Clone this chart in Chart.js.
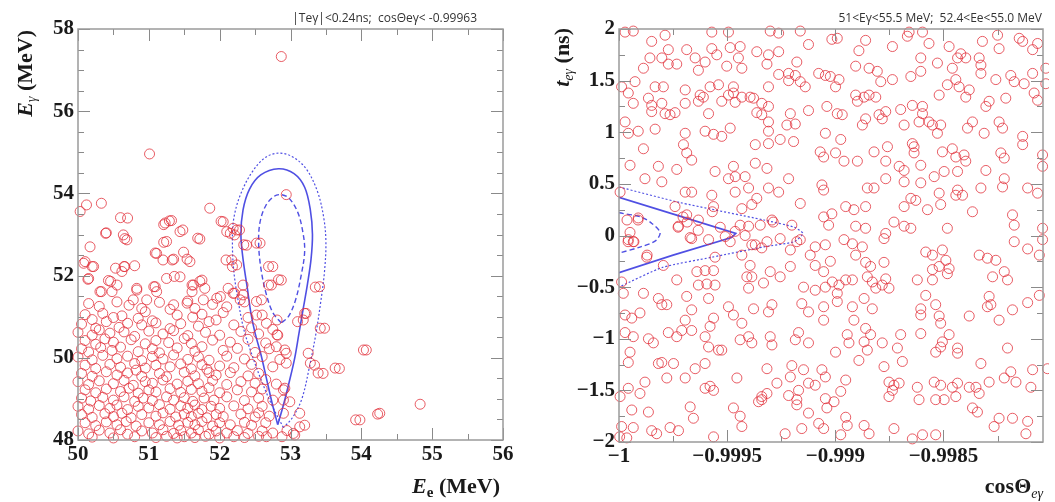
<!DOCTYPE html>
<html>
<head>
<meta charset="utf-8">
<script src="https://cdn.jsdelivr.net/npm/chart.js@4.4.1/dist/chart.umd.min.js"></script>
<style>
  body { margin: 0; background: #fff; width: 1055px; height: 502px; overflow: hidden; position: relative; }
  .pane { position: absolute; top: 0; height: 502px; }
</style>
</head>
<body>
<div class="pane" style="left:0;width:528px"><canvas id="energyChart"></canvas></div>
<div class="pane" style="left:530px;width:525px"><canvas id="timingChart"></canvas></div>
<script>
// ---- left panel: E_e (MeV) vs E_gamma (MeV), events
var energyEvents = [
  [52.87,57.33],[51.01,54.96],[52.94,53.97],[50.03,53.56],[50.12,53.72],[50.33,53.76],[51.86,53.64],
  [50.39,53.03],[50.6,53.41],[50.7,53.4],[50.64,52.99],[50.66,52.9],[50.17,52.7],[50.08,52.3],[50.2,52.22],
  [50.14,51.91],[50.8,52.24],[50.65,52.22],[50.53,52.18],[50.46,51.86],[50.31,51.61],[51.21,53.24],[51.29,53.33],
  [51.44,53.07],[51.48,53.11],[51.21,52.81],[51.09,52.55],[51.33,52.38],[51.49,52.57],[51.54,52.4],[51.69,52.91],
  [52.02,53.32],[52.1,53.07],[52.15,53.03],[52.24,53.11],[52.34,52.75],[52.52,52.79],[52.09,52.38],[52.18,52.22],
  [52.69,52.22],[52.83,51.9],[52.69,51.77],[53.35,51.72],[51.36,51.98],[51.61,51.77],[51.72,51.86],[51.07,51.73],
  [50.97,51.41],[50.83,51.65],[50.78,51.41],[51.35,51.29],[51.54,51.33],[51.77,51.41],[51.96,51.45],[52.19,51.57],
  [52.29,51.41],[52.52,51.37],[53.2,51.08],[53.1,50.88],[53.42,50.72],[52.81,50.92],[52.81,50.56],[52.52,51.04],
  [52.66,50.84],[53.63,49.75],[54.03,50.19],[53.39,49.63],[53.28,49.87],[54.83,48.87],[54.23,48.63],[53.92,48.49],
  [52.92,50.19],[52.9,49.22],[52.9,48.97],[52.9,48.65],[53.13,48.65],[53.13,48.32],[53.04,48.16],[52.88,48.08],
  [52.66,48.08],[51.23,53.28],[51.32,53.34],[50.4,53.04],[50.69,52.87],[52.05,53.31],[51.72,52.89],[51.25,52.83],
  [51.11,52.54],[51.2,52.38],[51.35,52.4],[51.58,52.34],[50.1,52.34],[50.22,52.22],[50.66,52.22],[50.62,52.1],
  [50.15,51.93],[50.43,51.88],[50.55,51.77],[50.83,51.69],[51.09,51.73],[51.11,51.61],[51.25,51.93],[51.44,51.97],
  [51.63,51.77],[51.75,51.89],[51.79,51.69],[52.01,51.49],[52.12,51.69],[50.33,51.61],[50.48,51.61],[51.61,51.61],
  [52.19,53.15],[52.28,53.11],[52.21,52.99],[52.38,52.74],[52.57,52.79],[52.17,52.38],[52.24,52.26],[52.75,52.22],
  [52.73,51.77],[52.87,51.89],[53.41,51.73],[52.33,51.77],[52.21,51.57],[52.33,51.53],[52.59,51.41],
  [53.48,50.72],[54.07,50.19],[53.69,49.74],[53.46,49.62],[53.34,49.82],[53.25,50.11],[54.26,48.65],[53.98,48.49],
  [53.22,51.08],[53.18,50.92],[52.82,50.55],[52.8,50.27],[52.94,50.11],[52.94,49.87],[52.92,49.26],[52.99,48.93],
  [53.2,48.36],[53.06,48.12],
  [50.15,51.32],[50.3,51.25],[50.55,51.36],[50.72,51.28],[50.9,51.2],[51.15,51.35],[51.3,51.18],[51.55,51.38],
  [51.65,51.2],[51.9,51.3],[52.1,51.24],[52.35,51.36],
  [50.1,51.05],[50.2,50.93],[50.35,51.08],[50.5,50.98],[50.62,51.02],[50.85,50.96],[50.95,51.12],[51.05,50.9],
  [51.4,51.04],[51.62,50.99],[51.75,51.06],[51.95,50.92],[52.05,51.1],[52.4,50.98],[52.6,51.04],
  [50.05,50.82],[50.25,50.72],[50.4,50.88],[50.58,50.74],[50.7,50.84],[50.9,50.8],[51.1,50.85],[51.3,50.71],
  [51.45,50.83],[51.7,50.77],[51.85,50.88],[52.2,50.8],[52.45,50.73],
  [50.0,50.62],[50.2,50.55],[50.3,50.68],[50.45,50.6],[50.65,50.63],[50.8,50.52],[51.0,50.65],[51.2,50.58],
  [51.35,50.66],[51.55,50.54],[51.8,50.62],[52.0,50.55],[52.3,50.64],[52.55,50.58],[52.75,50.69],
  [50.1,50.42],[50.25,50.33],[50.38,50.46],[50.5,50.38],[50.75,50.44],[50.95,50.34],[51.1,50.42],[51.28,50.37],
  [51.5,50.47],[51.6,50.35],[51.9,50.43],[52.15,50.38],[52.4,50.45],[52.65,50.36],
  [50.05,50.22],[50.15,50.14],[50.32,50.25],[50.48,50.18],[50.6,50.26],[50.85,50.15],[51.05,50.22],[51.15,50.12],
  [51.4,50.24],[51.65,50.16],[51.75,50.27],[52.05,50.18],[52.25,50.23],[52.5,50.13],[52.7,50.22],
  [50.0,50.02],[50.2,49.95],[50.35,50.06],[50.55,49.98],[50.7,50.04],[50.9,49.93],[51.05,50.03],[51.2,49.97],
  [51.35,50.07],[51.55,49.96],[51.7,50.02],[51.85,49.94],[52.1,50.04],[52.35,49.97],[52.6,50.03],[52.85,49.96],
  [50.1,49.82],[50.25,49.74],[50.45,49.84],[50.6,49.77],[50.8,49.86],[50.95,49.75],[51.1,49.82],[51.3,49.78],
  [51.45,49.85],[51.6,49.73],[51.75,49.83],[51.82,49.72],[52.0,49.8],[52.2,49.76],[52.45,49.84],[52.75,49.78],
  [50.05,49.62],[50.2,49.55],[50.4,49.66],[50.55,49.58],[50.7,49.63],[50.82,49.7],[50.9,49.55],[51.15,49.62],
  [51.25,49.54],[51.5,49.65],[51.65,49.56],[51.85,49.64],[51.95,49.58],[52.15,49.64],[52.4,49.56],[52.55,49.62],
  [50.0,49.42],[50.15,49.35],[50.3,49.44],[50.5,49.37],[50.65,49.45],[50.78,49.33],[50.95,49.42],[51.05,49.38],
  [51.2,49.46],[51.4,49.36],[51.55,49.43],[51.7,49.37],[51.9,49.45],[52.1,49.35],[52.3,49.42],[52.5,49.38],
  [52.65,49.47],[52.8,49.36],
  [50.1,49.22],[50.25,49.15],[50.4,49.24],[50.6,49.18],[50.72,49.26],[50.85,49.14],[51.0,49.22],[51.1,49.17],
  [51.3,49.25],[51.45,49.16],[51.6,49.23],[51.75,49.18],[51.85,49.27],[52.0,49.15],[52.25,49.22],[52.45,49.17],
  [52.6,49.24],
  [50.05,49.02],[50.18,48.95],[50.35,49.04],[50.5,48.97],[50.65,49.05],[50.8,48.94],[50.92,49.02],[51.05,48.96],
  [51.25,49.05],[51.35,48.97],[51.5,49.03],[51.62,48.94],[51.78,49.02],[51.92,48.97],[52.1,49.05],[52.35,48.96],
  [52.55,49.02],[52.75,48.97],
  [50.0,48.82],[50.15,48.75],[50.3,48.84],[50.45,48.77],[50.55,48.85],[50.7,48.74],[50.85,48.82],[51.0,48.78],
  [51.15,48.86],[51.3,48.75],[51.45,48.83],[51.55,48.77],[51.65,48.85],[51.75,48.74],[51.88,48.82],[52.0,48.77],
  [52.2,48.83],[52.4,48.76],[52.6,48.82],
  [50.05,48.62],[50.2,48.55],[50.38,48.64],[50.5,48.57],[50.62,48.65],[50.75,48.54],[50.9,48.62],[51.1,48.58],
  [51.2,48.66],[51.38,48.56],[51.5,48.63],[51.6,48.57],[51.7,48.65],[51.82,48.54],[51.95,48.62],[52.05,48.57],
  [52.3,48.63],[52.5,48.56],[52.55,48.66],[52.7,48.58],
  [50.1,48.42],[50.25,48.35],[50.4,48.44],[50.55,48.37],[50.68,48.45],[50.82,48.34],[51.0,48.42],[51.15,48.37],
  [51.3,48.45],[51.42,48.36],[51.55,48.43],[51.65,48.37],[51.75,48.45],[51.9,48.34],[52.0,48.42],[52.15,48.37],
  [52.35,48.43],[52.45,48.36],[52.65,48.42],
  [50.0,48.22],[50.15,48.15],[50.3,48.24],[50.45,48.17],[50.6,48.25],[50.7,48.14],[50.9,48.22],[51.05,48.17],
  [51.2,48.25],[51.35,48.16],[51.45,48.23],[51.6,48.17],[51.7,48.25],[51.85,48.14],[51.95,48.22],[52.1,48.17],
  [52.25,48.23],[52.4,48.16],[52.6,48.22],[52.75,48.17],[52.95,48.23],
  [50.2,48.07],[50.5,48.05],[50.8,48.08],[51.1,48.06],[51.25,48.09],[51.4,48.05],[51.5,48.08],[51.65,48.06],
  [51.8,48.09],[52.0,48.05],[52.2,48.08],[52.35,48.06],[52.55,48.09]
];

// signal contours (E_e, E_gamma)
var energyContourSolid = [
  [52.82,48.37],[52.74,48.9],[52.66,49.5],[52.58,50.1],[52.5,50.6],[52.44,51.1],[52.39,51.7],[52.33,52.4],
  [52.3,53.0],[52.33,53.6],[52.42,54.1],[52.58,54.45],[52.83,54.6],[53.05,54.48],[53.2,54.15],[53.28,53.6],
  [53.31,53.0],[53.29,52.4],[53.24,51.8],[53.18,51.2],[53.12,50.6],[53.06,50.0],[52.98,49.4],[52.9,48.85],[52.82,48.37]
];
var energyContourOuter = [
  [52.9,48.3],[52.75,48.8],[52.6,49.4],[52.45,50.1],[52.34,50.7],[52.26,51.4],[52.2,52.1],[52.18,52.8],
  [52.2,53.4],[52.3,54.0],[52.47,54.55],[52.65,54.88],[52.83,54.98],[53.02,54.9],[53.22,54.6],[53.38,54.05],
  [53.47,53.4],[53.5,52.8],[53.48,52.1],[53.43,51.4],[53.36,50.6],[53.27,49.8],[53.16,49.0],[53.03,48.55],[52.9,48.3]
];
var energyContourInner = [
  [52.87,50.85],[52.75,51.1],[52.65,51.6],[52.58,52.2],[52.55,52.8],[52.57,53.3],[52.65,53.7],[52.77,53.93],
  [52.87,53.97],[52.98,53.88],[53.1,53.55],[53.17,53.1],[53.2,52.6],[53.15,52.0],[53.07,51.4],[52.97,51.0],[52.87,50.85]
];

var energyXTicks = [50, 51, 52, 53, 54, 55, 56];
var energyYTicks = [48, 50, 52, 54, 56, 58];

// ---- right panel: cos(theta_e gamma) vs t_e gamma (ns)
var timingEvents = [
  [-0.999972,1.97],[-0.999934,1.98],[-0.999787,1.94],[-0.999849,1.88],[-0.999571,1.97],[-0.999494,1.97],
  [-0.999301,1.98],[-0.999262,1.96],[-0.999162,1.98],[-0.999016,1.90],
  [-0.999772,1.80],[-0.999687,1.80],[-0.999571,1.81],[-0.999486,1.82],[-0.99944,1.83],[-0.999363,1.78],
  [-0.999309,1.75],[-0.999262,1.78],[-0.999124,1.85],
  [-0.999857,1.72],[-0.999802,1.72],[-0.999648,1.72],[-0.999602,1.68],[-0.999548,1.75],[-0.999448,1.72],
  [-0.999772,1.66],[-0.999733,1.66],[-0.999633,1.60],[-0.999502,1.64],[-0.999432,1.62],[-0.999316,1.66],
  [-0.999178,1.68],[-0.999216,1.57],[-0.999185,1.55],[-0.999162,1.49],[-0.999887,1.62],[-0.999262,1.56],
  [-0.999077,1.57],[-0.999046,1.55],[-0.999023,1.54],
  [-0.999988,1.44],[-0.999926,1.49],[-0.999833,1.44],[-0.999795,1.44],[-0.999694,1.41],[-0.999579,1.44],
  [-0.99954,1.46],[-0.999471,1.44],[-0.999309,1.44],[-0.999216,1.50],[-0.999139,1.44],
  [-0.999957,1.38],[-0.999864,1.33],[-0.999625,1.36],[-0.99961,1.34],[-0.999494,1.36],[-0.999471,1.38],
  [-0.999432,1.34],[-0.999394,1.34],[-0.999378,1.33],
  [-0.999849,1.26],[-0.999802,1.28],[-0.999694,1.28],[-0.999633,1.30],[-0.999525,1.30],[-0.999463,1.29],
  [-0.99934,1.28],[-0.999309,1.25],[-0.999934,1.28],
  [-0.999849,1.20],[-0.999787,1.18],[-0.999764,1.17],[-0.999741,1.19],[-0.999586,1.18],[-0.999363,1.19],
  [-0.99934,1.17],[-0.999208,1.18],[-0.999124,1.21],[-0.999039,1.25],
  [-0.999972,1.10],[-0.999911,1.01],[-0.999957,0.99],[-0.999833,1.03],[-0.999602,1.01],[-0.999563,0.98],
  [-0.999525,0.96],[-0.999486,1.04],[-0.999309,1.10],[-0.999309,1.01],[-0.999224,1.07],[-0.999185,1.08],
  [-0.999046,0.99],
  [-0.999887,0.84],[-0.999694,0.99],[-0.99937,0.88],[-0.999309,0.89],[-0.999255,0.93],[-0.999193,0.91],
  [-0.999702,0.88],[-0.999687,0.80],[-0.999664,0.73],[-0.99907,0.81],[-0.999054,0.76],
  [-0.999949,0.68],[-0.999818,0.67],[-0.999733,0.64],[-0.999556,0.62],[-0.999471,0.67],[-0.999463,0.57],
  [-0.99937,0.70],[-0.999316,0.65],[-0.999216,0.55],[-0.999802,0.52],[-0.99988,0.55],[-0.999494,0.55],
  [-0.999417,0.57],[-0.999401,0.46],[-0.999309,0.46],[-0.999062,0.49],[-0.999054,0.44],
  [-0.999995,0.42],[-0.999694,0.42],[-0.999664,0.42],[-0.999571,0.39],[-0.999463,0.42],[-0.999363,0.36],
  [-0.999386,0.30],[-0.999262,0.42],[-0.999162,0.31],[-0.999016,0.21],[-0.999432,0.26],[-0.999741,0.28],
  [-0.999687,0.20],[-0.999633,0.15],[-0.999725,0.09],[-0.999563,0.28],[-0.99944,0.10],[-0.999401,0.09],
  [-0.999347,0.10],[-0.999293,0.15],[-0.999201,0.10],[-0.999054,0.18],[-0.999031,0.10],[-0.999911,0.17],
  [-0.999963,0.15],[-0.999912,0.15],[-0.999949,0.03],[-0.999958,-0.06],[-0.999931,-0.06],[-0.99987,-0.19],
  [-0.999727,0.08],[-0.999704,0.18],[-0.999685,0.13],[-0.999671,-0.02],[-0.999634,0.05],[-0.999569,0.23],
  [-0.999532,0.08],[-0.999463,0.04],[-0.999417,0.0],[-0.99937,-0.09],[-0.999287,0.13],[-0.999208,-0.14],
  [-0.999162,-0.04],[-0.999116,-0.19],
  [-0.998991,1.91],[-0.99886,1.89],[-0.998659,1.97],[-0.998667,1.93],[-0.998597,1.97],[-0.998736,1.83],
  [-0.998891,1.79],[-0.998567,1.86],[-0.998474,1.83],[-0.99842,1.76],[-0.998397,1.72],[-0.998435,1.72],
  [-0.99832,1.88],[-0.99825,1.94],[-0.998243,1.81],[-0.99815,1.91],[-0.998134,1.88],[-0.998065,1.86],
  [-0.998088,1.80],[-0.998335,1.72],[-0.998605,1.72],[-0.998528,1.67],[-0.998459,1.62],[-0.998906,1.64],
  [-0.998844,1.62],[-0.998806,1.59],[-0.998983,1.51],[-0.998999,1.44],[-0.99879,1.49],[-0.998736,1.51],
  [-0.998651,1.54],[-0.998605,1.59],[-0.998482,1.46],[-0.998443,1.51],[-0.998428,1.44],[-0.998381,1.41],
  [-0.998397,1.34],[-0.998327,1.65],[-0.998327,1.57],[-0.998258,1.51],[-0.998189,1.55],[-0.998173,1.49],
  [-0.998127,1.47],[-0.998088,1.57],[-0.998027,1.62],[-0.998027,1.47],
  [-0.998906,1.36],[-0.998867,1.34],[-0.998844,1.36],[-0.998813,1.34],[-0.998898,1.30],[-0.998991,1.18],
  [-0.998968,1.17],[-0.99886,1.13],[-0.998875,1.07],[-0.998798,1.17],[-0.998767,1.20],[-0.998783,1.13],
  [-0.998698,1.22],[-0.998644,1.26],[-0.998597,1.25],[-0.998597,1.18],[-0.998682,1.07],[-0.998613,1.10],
  [-0.998567,1.10],[-0.998551,1.07],[-0.99852,1.36],[-0.998513,1.07],[-0.998528,0.99],[-0.998366,1.10],
  [-0.998389,1.04],[-0.998304,1.25],[-0.998289,1.30],[-0.998212,1.33],[-0.998243,1.10],[-0.998227,1.04],
  [-0.998312,0.99],[-0.998134,0.96],[-0.998134,0.88],[-0.998081,1.38],[-0.998065,1.31],
  [-0.998975,0.93],[-0.998999,0.80],[-0.99896,0.72],[-0.998898,0.72],[-0.998821,0.81],[-0.998759,0.86],
  [-0.998767,0.72],[-0.998644,0.89],[-0.998636,0.86],[-0.998636,0.80],[-0.998705,0.67],[-0.998682,0.63],
  [-0.998605,0.68],[-0.998505,0.81],[-0.998459,0.84],[-0.998443,0.76],[-0.998405,0.78],[-0.998397,0.72],
  [-0.998497,0.62],[-0.998435,0.62],[-0.998304,0.63],[-0.998235,0.80],[-0.998219,0.75],[-0.998219,0.55],
  [-0.998227,0.47],[-0.998042,0.78],[-0.998042,0.67],[-0.998767,0.55],[-0.998682,0.52],[-0.998605,0.51],
  [-0.998543,0.57],[-0.99852,0.41],[-0.998435,0.44],[-0.998443,0.39],[-0.998412,0.39],[-0.998327,0.46],
  [-0.998111,0.46],[-0.998065,0.41],[-0.998852,0.46],[-0.998821,0.46],
  [-0.998952,0.28],[-0.998914,0.25],[-0.99886,0.28],[-0.998651,0.36],[-0.998628,0.34],[-0.998682,0.28],
  [-0.998574,0.25],[-0.998513,0.30],[-0.998366,0.23],[-0.998181,0.20],[-0.998173,0.10],[-0.998906,0.09],
  [-0.99886,0.07],[-0.998729,0.13],[-0.998682,0.09],[-0.998651,0.07],[-0.998482,0.07],[-0.998042,0.07],
  [-0.998767,0.02],
  [-0.999957,-0.04],[-0.999934,-0.06],[-0.999664,-0.03],[-0.999586,-0.04],[-0.999509,-0.01],[-0.999486,-0.06],
  [-0.999386,-0.09],[-0.99934,-0.12],[-0.999316,-0.06],[-0.999255,-0.03],[-0.999178,-0.06],[-0.999093,-0.11],
  [-0.999046,-0.09],[-0.999872,-0.21],[-0.999795,-0.29],[-0.999556,-0.21],[-0.999432,-0.19],[-0.999394,-0.29],
  [-0.999301,-0.35],[-0.999255,-0.40],[-0.999208,-0.30],[-0.999093,-0.29],[-0.999054,-0.35],[-0.999023,-0.25],
  [-0.99964,-0.35],[-0.999602,-0.34],[-0.999563,-0.34],[-0.999633,-0.48],[-0.999594,-0.47],[-0.999556,-0.48],
  [-0.999733,-0.43],[-0.999409,-0.40],[-0.999386,-0.40],[-0.999401,-0.51],[-0.999332,-0.46],[-0.999988,-0.45],
  [-0.99998,-0.56],[-0.999887,-0.56],[-0.999818,-0.61],[-0.999802,-0.67],[-0.999779,-0.67],[-0.999687,-0.59],
  [-0.999586,-0.61],[-0.999664,-0.72],[-0.999494,-0.69],[-0.999471,-0.77],[-0.999378,-0.71],[-0.999293,-0.67],
  [-0.999309,-0.74],[-0.999147,-0.50],[-0.999093,-0.53],[-0.999046,-0.50],[-0.999155,-0.66],[-0.999124,-0.74],
  [-0.999054,-0.69],[-0.999054,-0.82],[-0.999972,-0.77],[-0.999941,-0.80],[-0.999903,-0.75],[-0.999694,-0.82],
  [-0.999664,-0.92],[-0.999563,-0.80],[-0.999579,-0.88],[-0.999432,-0.85],[-0.999772,-0.94],[-0.999733,-0.98],
  [-0.99971,-0.92],[-0.999972,-0.94],[-0.999934,-0.98],[-0.999864,-1.00],[-0.999841,-1.04],[-0.999602,-0.98],
  [-0.999586,-1.08],[-0.99954,-1.11],[-0.99944,-1.01],[-0.999401,-0.98],[-0.999386,-1.04],[-0.999301,-0.98],
  [-0.999293,-1.06],[-0.99917,-0.94],[-0.999185,-1.01],[-0.999124,-1.04],
  [-0.999949,-1.13],[-0.999957,-1.23],[-0.999818,-1.24],[-0.999802,-1.23],[-0.999748,-1.24],[-0.999648,-1.29],
  [-0.999525,-1.11],[-0.999602,-1.24],[-0.999316,-1.29],[-0.999201,-1.26],[-0.999147,-1.30],[-0.999062,-1.30],
  [-0.999046,-1.37],[-0.999779,-1.38],[-0.999694,-1.38],[-0.999957,-1.48],[-0.99988,-1.42],[-0.999903,-1.53],
  [-0.999602,-1.48],[-0.999579,-1.46],[-0.999563,-1.50],[-0.999455,-1.38],[-0.99934,-1.56],[-0.999316,-1.53],
  [-0.999208,-1.37],[-0.99917,-1.50],[-0.99927,-1.43],[-0.999124,-1.43],[-0.999093,-1.45],[-0.999995,-1.56],
  [-0.999941,-1.69],[-0.999864,-1.71],[-0.999671,-1.66],[-0.999656,-1.77],[-0.999471,-1.67],[-0.99944,-1.75],
  [-0.999432,-1.85],[-0.999355,-1.61],[-0.99934,-1.59],[-0.999216,-1.55],[-0.999178,-1.59],[-0.999178,-1.64],
  [-0.999124,-1.72],[-0.999046,-1.58],[-0.999039,-1.67],[-0.999988,-1.85],[-0.999934,-1.86],[-0.999849,-1.89],
  [-0.999826,-1.92],[-0.999764,-1.86],[-0.999725,-1.89],[-0.999997,-1.95],[-0.999964,-1.96],[-0.999563,-1.95],
  [-0.999232,-1.92],[-0.999155,-1.87],[-0.999077,-1.82],[-0.999054,-1.87],
  [-0.99896,-0.04],[-0.998921,-0.08],[-0.998875,-0.11],[-0.998775,-0.03],[-0.998906,-0.19],[-0.99886,-0.26],
  [-0.998837,-0.30],[-0.998775,-0.26],[-0.998582,-0.16],[-0.998551,-0.19],[-0.998505,-0.14],[-0.998489,-0.24],
  [-0.99852,-0.30],[-0.998551,-0.33],[-0.998474,-0.32],[-0.998482,-0.37],[-0.998335,-0.19],[-0.998297,-0.22],
  [-0.998258,-0.24],[-0.998219,-0.35],[-0.998273,-0.40],[-0.998204,-0.43],[-0.998173,-0.06],[-0.998111,-0.13],
  [-0.998042,-0.04],[-0.998057,-0.19],[-0.999014,-0.45],[-0.998983,-0.48],[-0.998952,-0.43],[-0.998921,-0.43],
  [-0.998991,-0.56],[-0.998991,-0.64],[-0.998852,-0.40],[-0.998829,-0.45],[-0.998813,-0.51],[-0.998783,-0.48],
  [-0.998752,-0.51],[-0.998767,-0.42],[-0.998621,-0.43],[-0.998551,-0.43],[-0.998867,-0.61],[-0.998829,-0.71],
  [-0.998921,-0.69],[-0.998582,-0.58],[-0.998605,-0.71],[-0.998605,-0.77],[-0.998536,-0.67],[-0.99852,-0.78],
  [-0.998513,-0.85],[-0.998381,-0.78],[-0.998289,-0.59],[-0.998281,-0.67],[-0.998297,-0.69],[-0.998243,-0.82],
  [-0.998181,-0.72],[-0.998111,-0.65],[-0.998057,-0.58],[-0.998914,-0.82],
  [-0.998945,-0.96],[-0.998937,-1.04],[-0.99886,-0.90],[-0.998837,-0.96],[-0.998867,-1.03],[-0.998852,-1.11],
  [-0.998783,-1.04],[-0.998698,-0.96],[-0.998713,-1.09],[-0.998605,-0.95],[-0.998505,-1.03],[-0.998474,-0.96],
  [-0.998513,-1.08],[-0.998435,-1.09],[-0.998435,-1.14],[-0.998536,-1.13],[-0.998999,-1.13],[-0.998891,-1.21],
  [-0.998775,-1.27],[-0.99869,-1.22],[-0.998327,-1.24],[-0.998204,-1.09],[-0.998189,-1.32],[-0.998088,-1.30],
  [-0.998019,-1.29],
  [-0.998952,-1.40],[-0.998975,-1.51],[-0.999006,-1.61],[-0.998752,-1.42],[-0.998729,-1.45],[-0.998705,-1.43],
  [-0.998736,-1.50],[-0.998752,-1.56],[-0.998621,-1.47],[-0.998613,-1.59],[-0.998543,-1.42],[-0.998513,-1.45],
  [-0.998536,-1.59],[-0.998497,-1.59],[-0.998459,-1.47],[-0.998435,-1.43],[-0.998443,-1.56],[-0.998381,-1.47],
  [-0.99835,-1.47],[-0.998335,-1.53],[-0.998289,-1.42],[-0.998219,-1.38],[-0.998165,-1.42],[-0.998096,-1.47],
  [-0.998366,-1.67],[-0.998343,-1.71],[-0.998243,-1.77],[-0.998181,-1.77],[-0.998111,-1.80],[-0.998119,-1.92],
  [-0.998266,-1.85],[-0.998952,-1.76],[-0.998945,-1.84],[-0.998975,-1.93],[-0.998867,-1.84],[-0.998844,-1.92],
  [-0.998729,-1.87],[-0.998644,-1.97],[-0.998597,-1.93],[-0.998536,-1.93]
];

// signal contours (cos theta, t)
var timingContourSolid = [[-1,0.37],[-0.99973,0.195],[-0.99946,0.02],[-0.99948,-0.02],[-0.99975,-0.19],[-1,-0.36]];
var timingContourOuter = [
  [-1,0.47],[-0.99972,0.32],[-0.99933,0.15],[-0.99919,0.08],[-0.99915,0.02],[-0.99919,-0.06],
  [-0.99933,-0.11],[-0.99957,-0.21],[-0.9998,-0.31],[-1,-0.5]
];
var timingContourInner = [[-1,0.22],[-0.9999,0.18],[-0.99985,0.12],[-0.99981,0.03],[-0.99983,-0.05],[-0.9999,-0.11],[-1,-0.17]];

var timingXTicks = [-1, -0.9995, -0.999, -0.9985];
var timingYTicks = [-2, -1.5, -1, -0.5, 0, 0.5, 1, 1.5, 2];

// ---- helpers
var SERIF = '"Liberation Serif", "DejaVu Serif", serif';
var tickFont = { family: SERIF, size: 21, weight: 'bold' };
var markerColor = 'rgba(226,48,58,0.78)';
var contourColor = 'rgba(70,70,225,0.95)';

function pts(list) {
  return list.map(function (p) { return { x: p[0], y: p[1] }; });
}
function fmt(v) {
  return String(v).replace('-', '\u2212');
}
function fixedTicks(list) {
  return function (scale) { scale.ticks = list.map(function (v) { return { value: v }; }); };
}

// draw text pieces (different fonts / subscripts) ending at x
function richText(ctx, parts, x, y) {
  var w = 0;
  parts.forEach(function (p) { ctx.font = p.f; w += ctx.measureText(p.t).width; });
  var cx = x - w;
  parts.forEach(function (p) {
    ctx.font = p.f;
    ctx.fillText(p.t, cx, y + (p.dy || 0));
    cx += ctx.measureText(p.t).width;
  });
}

// ROOT-style frame with ticks inside on all four sides, plus axis titles
var rootFrame = {
  id: 'rootFrame',
  afterDatasetsDraw: function (chart, args, o) {
    var ctx = chart.ctx, a = chart.chartArea, xs = chart.scales.x, ys = chart.scales.y;
    ctx.save();
    ctx.strokeStyle = '#8a8a8a';
    ctx.lineWidth = 1;
    ctx.beginPath();
    function xTicks(step, len) {
      var n = Math.round((xs.max - xs.min) / step);
      var first = Math.ceil((xs.min - 1e-12) / step);
      for (var i = first; i * step <= xs.max + step * 1e-6; i++) {
        var px = Math.round(xs.getPixelForValue(i * step)) + 0.5;
        ctx.moveTo(px, a.bottom); ctx.lineTo(px, a.bottom - len);
        ctx.moveTo(px, a.top); ctx.lineTo(px, a.top + len);
      }
    }
    function yTicks(step, len) {
      var first = Math.ceil((ys.min - 1e-12) / step);
      for (var i = first; i * step <= ys.max + step * 1e-6; i++) {
        var py = Math.round(ys.getPixelForValue(i * step)) + 0.5;
        ctx.moveTo(a.left, py); ctx.lineTo(a.left + len, py);
        ctx.moveTo(a.right, py); ctx.lineTo(a.right - len, py);
      }
    }
    xTicks(o.xMinor, 6); xTicks(o.xMajor, 12);
    yTicks(o.yMinor, 6); yTicks(o.yMajor, 12);
    ctx.stroke();
    ctx.lineWidth = 1.5;
    ctx.strokeStyle = '#9a9a9a';
    ctx.strokeRect(a.left, a.top, a.right - a.left, a.bottom - a.top);
    ctx.restore();
  },
  afterDraw: function (chart, args, o) {
    var ctx = chart.ctx;
    ctx.save();
    ctx.fillStyle = '#1a1a1a';
    ctx.textBaseline = 'alphabetic';
    richText(ctx, o.xTitle, o.xTitlePos[0], o.xTitlePos[1]);
    ctx.save();
    ctx.translate(o.yTitlePos[0], o.yTitlePos[1]);
    ctx.rotate(-Math.PI / 2);
    richText(ctx, o.yTitle, 0, 0);
    ctx.restore();
    ctx.fillStyle = '#333';
    ctx.font = '12px "Open Sans", "DejaVu Sans", sans-serif';
    ctx.textAlign = 'right';
    ctx.fillText(o.note, o.notePos[0], o.notePos[1]);
    ctx.restore();
  }
};

function scatterSet(list) {
  return {
    data: pts(list), showLine: false, pointStyle: 'circle', pointRadius: 5,
    pointBorderWidth: 1, pointBorderColor: markerColor, pointBackgroundColor: 'rgba(0,0,0,0)', clip: 6
  };
}
function lineSet(list, dash, width, tension) {
  return {
    data: pts(list), showLine: true, pointRadius: 0, borderColor: contourColor,
    borderWidth: width, borderDash: dash, tension: tension, fill: false, clip: 0
  };
}

function axis(min, max, ticks, fixedSize, isY) {
  var s = {
    type: 'linear', min: min, max: max,
    grid: { display: false, drawTicks: false },
    border: { display: false },
    afterBuildTicks: fixedTicks(ticks),
    ticks: { font: tickFont, color: '#1a1a1a', padding: isY ? 4 : 2, autoSkip: false, maxRotation: 0, callback: fmt }
  };
  s.afterFit = isY ? function (sc) { sc.width = fixedSize; } : function (sc) { sc.height = fixedSize; };
  return s;
}

// ---- left chart
new Chart(document.getElementById('energyChart'), {
  type: 'scatter',
  data: {
    datasets: [
      scatterSet(energyEvents),
      lineSet(energyContourOuter, [2, 2], 1.2, 0.35),
      lineSet(energyContourSolid, [], 1.6, 0.35),
      lineSet(energyContourInner, [5, 3], 1.4, 0.35)
    ]
  },
  options: {
    responsive: true, maintainAspectRatio: false, animation: false, events: [],
    layout: { padding: { top: 29, right: 25, left: 0, bottom: 0 } },
    scales: { x: axis(50, 56, energyXTicks, 62, false), y: axis(48, 58, energyYTicks, 78, true) },
    plugins: {
      legend: { display: false }, tooltip: { enabled: false },
      rootFrame: {
        xMajor: 1, xMinor: 0.5, yMajor: 2, yMinor: 0.5,
        xTitle: [
          { t: 'E', f: 'italic bold 22px ' + SERIF },
          { t: 'e', f: 'bold 15px ' + SERIF, dy: 4 },
          { t: ' (MeV)', f: 'bold 22px ' + SERIF }
        ],
        xTitlePos: [500, 493],
        yTitle: [
          { t: 'E', f: 'italic bold 22px ' + SERIF },
          { t: '\u03b3', f: 'italic 14px ' + SERIF, dy: 4 },
          { t: ' (MeV)', f: 'bold 22px ' + SERIF }
        ],
        yTitlePos: [32, 30],
        note: '|Te\u03b3|<0.24ns;  cos\u0398e\u03b3< -0.99963',
        notePos: [477, 22]
      }
    }
  },
  plugins: [rootFrame]
});

// ---- right chart
new Chart(document.getElementById('timingChart'), {
  type: 'scatter',
  data: {
    datasets: [
      scatterSet(timingEvents),
      lineSet(timingContourOuter, [2, 2], 1.2, 0.2),
      lineSet(timingContourSolid, [], 1.6, 0),
      lineSet(timingContourInner, [5, 3], 1.4, 0.3)
    ]
  },
  options: {
    responsive: true, maintainAspectRatio: false, animation: false, events: [],
    layout: { padding: { top: 29, right: 12, left: 0, bottom: 0 } },
    scales: { x: axis(-1, -0.99804, timingXTicks, 60, false), y: axis(-2, 2, timingYTicks, 89, true) },
    plugins: {
      legend: { display: false }, tooltip: { enabled: false },
      rootFrame: {
        xMajor: 0.0005, xMinor: 0.00025, yMajor: 0.5, yMinor: 0.25,
        xTitle: [
          { t: 'cos\u0398', f: 'bold 22px ' + SERIF },
          { t: 'e\u03b3', f: 'italic 14px ' + SERIF, dy: 5 }
        ],
        xTitlePos: [513, 493],
        yTitle: [
          { t: 't', f: 'italic bold 22px ' + SERIF },
          { t: 'e\u03b3', f: 'italic 14px ' + SERIF, dy: 4 },
          { t: ' (ns)', f: 'bold 22px ' + SERIF }
        ],
        yTitlePos: [39, 28],
        note: '51<E\u03b3<55.5 MeV;  52.4<Ee<55.0 MeV',
        notePos: [512, 22]
      }
    }
  },
  plugins: [rootFrame]
});
</script>
</body>
</html>
